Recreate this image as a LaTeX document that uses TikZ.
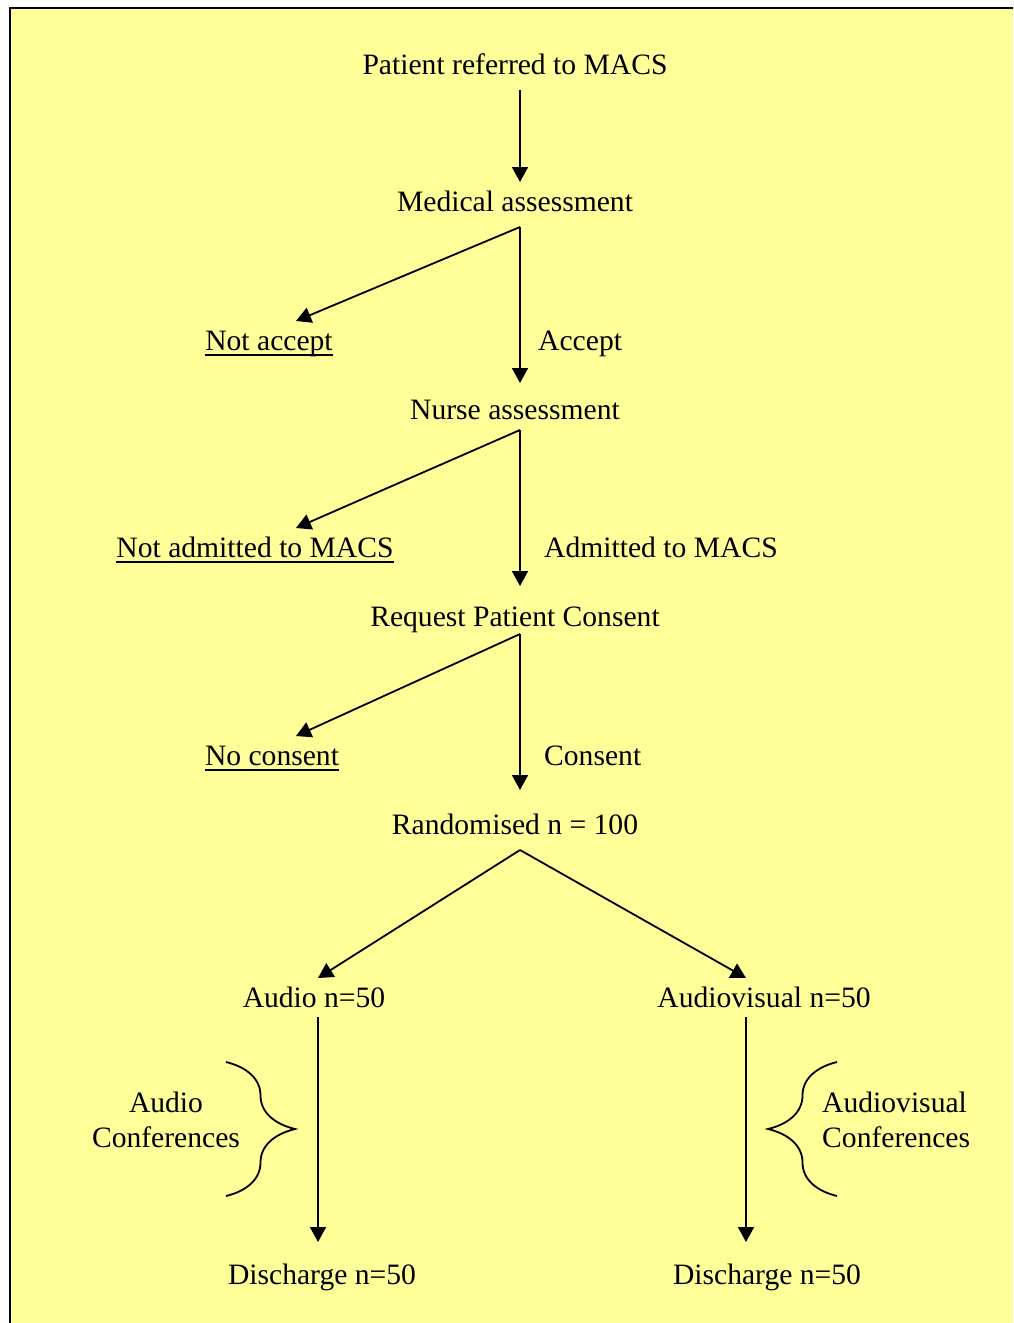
\documentclass[tikz,border=0pt]{standalone}
\usepackage{fontspec}
\setmainfont{Liberation Serif}
\usetikzlibrary{arrows.meta,decorations.pathreplacing}
\definecolor{bgyellow}{HTML}{FFFF99}
\newcommand\ulbox[1]{\setbox0\hbox{#1}\rlap{\rule[-5.5pt]{\wd0}{1.7pt}}\box0}

\begin{document}
\begin{tikzpicture}[x=1pt,y=-1pt,
    lbl/.style={font=\fontsize{29.6}{34}\selectfont, inner sep=0pt, outer ysep=10pt,
                text height=19pt, text depth=6pt, anchor=base},
    conf/.style={font=\fontsize{29.6}{35}\selectfont, inner sep=0pt},
    arr/.style={line width=1.8pt, -{Triangle[length=15pt,width=16pt]}},
    brc/.style={line width=1.8pt, decorate, decoration={brace,amplitude=69pt}}]

        % Frame
        \useasboundingbox (0,0) rectangle (1013,1323);
        \fill[bgyellow] (10,8) rectangle (1013,1323);
        \draw[line width=2.5pt] (10,1323) -- (10,8) -- (1013,8);

        % Nodes
        \node[lbl] (pat) at (515,74) {Patient referred to MACS};
        \node[lbl] (med) at (515,211) {Medical assessment};
        \node[lbl] (nacc) at (269,350) {\ulbox{Not accept}};
        \node[lbl, anchor=base west] (acc) at (538,350) {Accept};
        \node[lbl] (nur) at (515,419) {Nurse assessment};
        \node[lbl] (nadm) at (255,557) {\ulbox{Not admitted to MACS}};
        \node[lbl, anchor=base west] (adm) at (544,557) {Admitted to MACS};
        \node[lbl] (req) at (515,626) {Request Patient Consent};
        \node[lbl] (ncon) at (272,765) {\ulbox{No consent}};
        \node[lbl, anchor=base west] (con) at (544,765) {Consent};
        \node[lbl] (ran) at (515,834) {Randomised n = 100};
        \node[lbl] (aud) at (314,1007) {Audio n=50};
        \node[lbl] (av) at (764,1007) {Audiovisual n=50};
        \node[lbl] (dis1) at (322,1284) {Discharge n=50};
        \node[lbl] (dis2) at (767,1284) {Discharge n=50};
        \node[conf, align=center] (audc) at (166,1120) {Audio\\Conferences};
        \node[conf, align=left, anchor=west] (avc) at (822,1120) {Audiovisual\\Conferences};

        % Branch points
        \coordinate (medj) at ([xshift=5pt]med.south);
        \coordinate (nurj) at ([xshift=5pt,yshift=5pt]nur.south);
        \coordinate (reqj) at ([xshift=5pt,yshift=8pt]req.south);
        \coordinate (ranj) at ([xshift=5pt]ran.south);

        % Edges
        \draw[arr] ([xshift=5pt]pat.south) -- ([xshift=5pt]med.north);
        \draw[arr] (medj) -- ([xshift=27pt]nacc.north);
        \draw[arr, shorten >=7pt] (medj) -- ([xshift=5pt]nur.north);
        \draw[arr] (nurj) -- ([xshift=41pt]nadm.north);
        \draw[arr, shorten >=11pt] (nurj) -- ([xshift=5pt]req.north);
        \draw[arr] (reqj) -- ([xshift=24pt]ncon.north);
        \draw[arr, shorten >=15pt] (reqj) -- ([xshift=5pt]ran.north);
        \draw[arr] (ranj) -- ([xshift=4pt]aud.north);
        \draw[arr] (ranj) -- ([xshift=-18pt]av.north);
        \draw[arr, shorten <=-6pt, shorten >=13pt] ([xshift=4pt]aud.south) -- ([xshift=-4pt]dis1.north);
        \draw[arr, shorten <=-6pt, shorten >=13pt] ([xshift=-18pt]av.south) -- ([xshift=-21pt]dis2.north);

        % Braces
        \draw[brc] (226,1062) -- (226,1196);
        \draw[brc] (837,1196) -- (837,1062);

\end{tikzpicture}
\end{document}
